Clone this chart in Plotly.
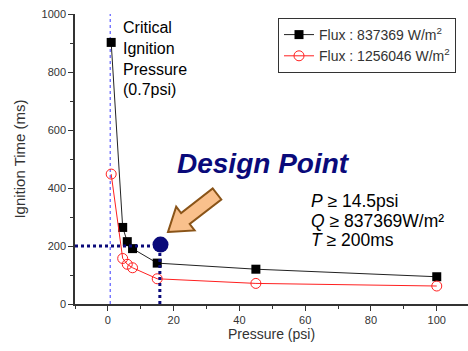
import plotly.graph_objects as go

# ---- data ----
pressure_a = [1.0, 4.5, 5.9, 7.5, 15, 45, 100]
time_a = [902, 264, 215, 191, 141, 120, 94]
pressure_b = [1.0, 4.5, 5.9, 7.5, 15, 45, 100]
time_b = [448, 157, 137, 125, 87, 71, 62]
name_a = "Flux : 837369 W/m<sup>2</sup>"
name_b = "Flux : 1256046 W/m<sup>2</sup>"
critical_pressure = 0.7
design_p = [16]
design_t = [205]
design_line_t = 200
design_line_p = 15.8
spec_lines = ["<i>P</i> ≥ 14.5psi", "<i>Q</i> ≥ 837369W/m²", "<i>T</i> ≥ 200ms"]

FONT = "Arial, Liberation Sans, sans-serif"
NAVY = "#0a0a7a"

# plot geometry
W, H = 468, 351
ML, MR, MT, MB = 75, 0, 14, 47
XR = [-10, 109.5]
YR = [0, 1000]
pw, ph = W - ML - MR, H - MT - MB


def px2data(px, py):
    x = XR[0] + (px - ML) / pw * (XR[1] - XR[0])
    y = YR[0] + (MT + ph - py) / ph * (YR[1] - YR[0])
    return x, y


fig = go.Figure()

# critical pressure line
fig.add_shape(type="line", x0=critical_pressure, x1=critical_pressure, y0=0, y1=1000,
              line=dict(color="#3a3aff", width=1, dash="3px,3px"), layer="below")
# design dotted lines
fig.add_shape(type="line", x0=XR[0], x1=design_p[0], y0=design_line_t, y1=design_line_t,
              line=dict(color=NAVY, width=3, dash="dot"))
fig.add_shape(type="line", x0=design_line_p, x1=design_line_p, y0=0, y1=design_line_t,
              line=dict(color=NAVY, width=3, dash="dot"))

fig.add_trace(go.Scatter(x=pressure_a, y=time_a, mode="lines+markers", name=name_a,
                         line=dict(color="#222222", width=1),
                         marker=dict(symbol="square", size=9, color="black")))
fig.add_trace(go.Scatter(x=pressure_b, y=time_b, mode="lines+markers", name=name_b,
                         line=dict(color="#ff2020", width=1),
                         marker=dict(symbol="circle-open", size=10, color="#ff2020",
                                     line=dict(width=1))))
fig.add_trace(go.Scatter(x=design_p, y=design_t, mode="markers", showlegend=False,
                         marker=dict(symbol="circle", size=16, color=NAVY)))

# arrow polygon (pixel space -> data)
arrow_px = [(168, 232), (194.6, 230.4), (189.7, 224.0), (221.3, 199.5),
            (212.7, 188.5), (181.1, 213.0), (176.2, 206.7)]
pts = [px2data(*p) for p in arrow_px]
path = "M " + " L ".join(f"{x:.3f},{y:.3f}" for x, y in pts) + " Z"
fig.add_shape(type="path", path=path, fillcolor="#f9c08c",
              line=dict(color="#8a5418", width=2))

# texts
fig.add_annotation(x=px2data(121, 0)[0], y=px2data(0, 17)[1], xanchor="left", yanchor="top",
                   text="Critical<br>Ignition<br>Pressure<br>(0.7psi)", showarrow=False,
                   align="left", font=dict(family=FONT, size=16, color="black"))
fig.add_annotation(x=px2data(175, 0)[0], y=px2data(0, 163)[1], xanchor="left", yanchor="middle",
                   text="<b><i>Design Point</i></b>", showarrow=False,
                   font=dict(family=FONT, size=28, color=NAVY))
for i, line in enumerate(spec_lines):
    fig.add_annotation(x=px2data(309, 0)[0], y=px2data(0, 201 + 19.5 * i)[1],
                       xanchor="left", yanchor="middle", text=line, showarrow=False,
                       font=dict(family=FONT, size=17.5, color="black"))

axis_common = dict(showline=True, linecolor="#333333", linewidth=1.5, ticks="outside",
                   ticklen=5, tickcolor="#333333", showgrid=False, zeroline=False,
                   tickfont=dict(family=FONT, size=11, color="#333333"),
                   mirror=False)
fig.update_xaxes(range=XR, tickvals=[0, 20, 40, 60, 80, 100],
                 minor=dict(ticks="outside", ticklen=3, dtick=10, tick0=0, tickcolor="#333333"),
                 title=dict(text="Pressure (psi)", font=dict(family=FONT, size=14, color="#333333"),
                            standoff=4),
                 **axis_common)
fig.update_yaxes(range=YR, tickvals=[0, 200, 400, 600, 800, 1000],
                 minor=dict(ticks="outside", ticklen=3, dtick=100, tick0=0, tickcolor="#333333"),
                 title=dict(text="Ignition Time (ms)", font=dict(family=FONT, size=15, color="#333333"),
                            standoff=12),
                 **axis_common)

fig.update_layout(
    width=W, height=H,
    margin=dict(l=ML, r=MR, t=MT, b=MB),
    plot_bgcolor="white", paper_bgcolor="white",
    font=dict(family=FONT),
    legend=dict(x=(456 - ML) / pw, y=(MT + ph - 18) / ph, xanchor="right", yanchor="top",
                bordercolor="#333333", borderwidth=1, bgcolor="white",
                font=dict(family=FONT, size=14, color="#333333"),
                tracegroupgap=0),
)

fig.write_html("out.html")
